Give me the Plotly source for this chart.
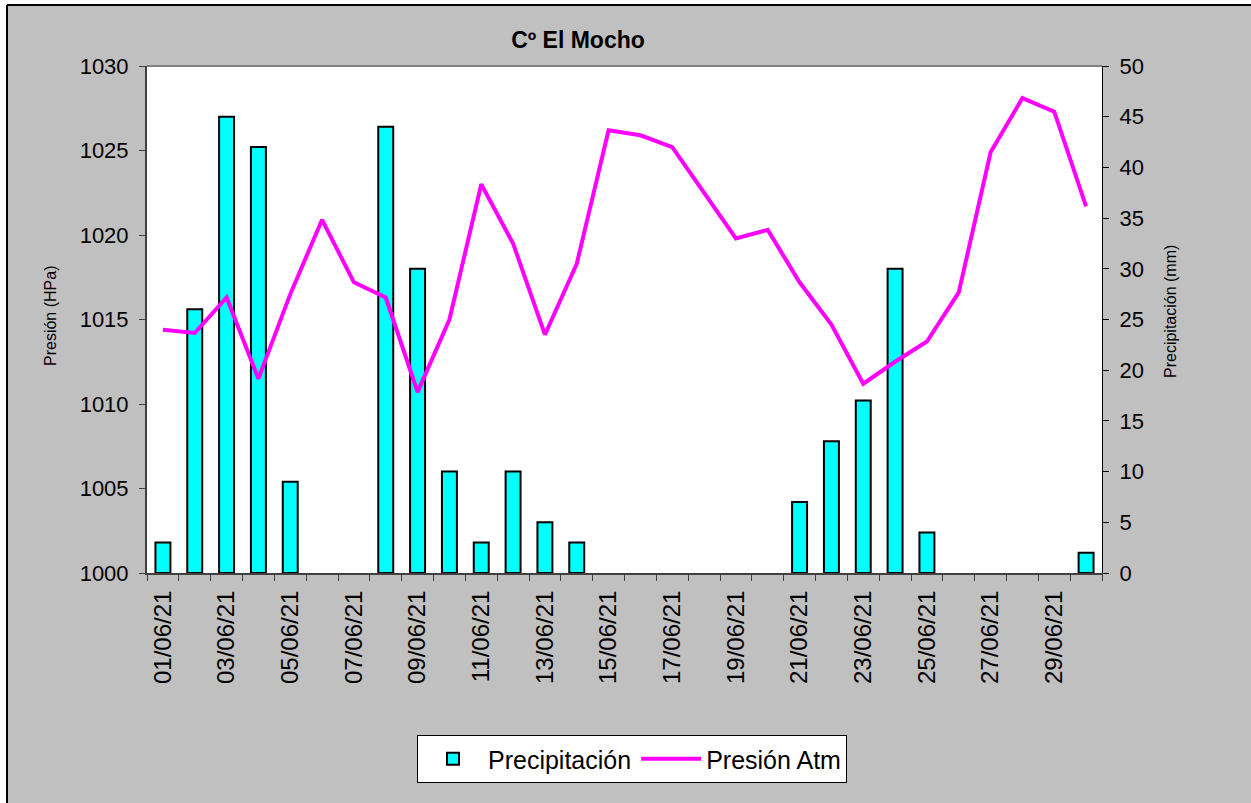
import plotly.graph_objects as go
import pandas as pd

# ---- data ----
dates = [f"{d:02d}/06/21" for d in range(1, 31)]
precipitacion = [3, 26, 45, 42, 9, 0, 0, 44, 30, 10,
                 3, 10, 5, 3, 0, 0, 0, 0, 0, 0,
                 7, 13, 17, 30, 4, 0, 0, 0, 0, 2]
presion = [1014.4, 1014.2, 1016.3, 1011.5, 1016.5, 1020.9, 1017.2, 1016.3, 1010.7, 1015.0,
           1023.0, 1019.5, 1014.1, 1018.3, 1026.2, 1025.9, 1025.2, 1022.5, 1019.8, 1020.3,
           1017.2, 1014.7, 1011.2, 1012.5, 1013.7, 1016.6, 1024.9, 1028.1, 1027.3, 1021.7]
label_dates = dates[::2]
title_text = "Cº El Mocho"

x = pd.to_datetime(dates, format="%d/%m/%y")
xt = pd.to_datetime(label_dates, format="%d/%m/%y")
bar_y = [v if v > 0 else None for v in precipitacion]

W, H = 1251, 803
L, R, T, B = 147, 1102, 66, 573


def px(v):
    return (v - L) / (R - L)


def py(v):
    return (B - v) / (B - T)


FONT = "Liberation Sans, Arial, sans-serif"

fig = go.Figure()
fig.add_trace(go.Bar(
    x=x, y=bar_y, name="Precipitación", yaxis="y",
    marker=dict(color="#00FFFF", line=dict(color="black", width=2)),
))
fig.add_trace(go.Scatter(
    x=x, y=presion, name="Presión Atm", yaxis="y2", mode="lines",
    line=dict(color="#FF00FF", width=4),
))

fig.update_layout(
    width=W, height=H,
    margin=dict(l=L, r=W - R, t=T, b=H - B, pad=0),
    paper_bgcolor="#C0C0C0",
    plot_bgcolor="white",
    bargap=0.53,
    font=dict(family=FONT, color="black"),
    title=dict(text="<b>" + title_text + "</b>", x=578 / W, y=1 - 40 / H,
               xanchor="center", yanchor="middle",
               font=dict(size=23, family=FONT, color="black")),
    xaxis=dict(
        range=[pd.Timestamp("2021-05-31 12:00"), pd.Timestamp("2021-06-30 12:00")],
        tickmode="array", tickvals=xt, ticktext=label_dates,
        tickangle=-90, tickfont=dict(size=24), ticks="", ticklen=0,
        showgrid=False, zeroline=False,
        showline=True, linecolor="#404040", linewidth=2,
        minor=dict(ticks="outside", ticklen=6, tickcolor="#404040",
                   dtick=86400000, tick0="2021-05-31 12:00", showgrid=False),
        ticklabelstandoff=6,
    ),
    yaxis=dict(
        range=[0, 50], dtick=5, side="right",
        showgrid=False, zeroline=False,
        showline=True, linecolor="black", linewidth=1,
        ticks="outside", ticklen=6, tickcolor="black",
        tickfont=dict(size=22), ticklabelstandoff=6,
    ),
    yaxis2=dict(
        range=[1000, 1030], dtick=5, side="left", overlaying="y",
        showgrid=False, zeroline=False,
        showline=True, linecolor="#404040", linewidth=2,
        ticks="outside", ticklen=6, tickcolor="#404040",
        tickfont=dict(size=22), ticklabelstandoff=6,
    ),
    legend=dict(
        orientation="h", x=px(632), y=py(735), xanchor="center", yanchor="top",
        bgcolor="white", bordercolor="black", borderwidth=1,
        font=dict(size=25, family=FONT, color="black"),
        itemwidth=60,
    ),
    showlegend=True,
)

# axis titles
fig.add_annotation(text="Presión (HPa)", x=px(50), y=py(316), xref="paper", yref="paper",
                   textangle=-90, showarrow=False, font=dict(size=16, family=FONT, color="black"),
                   xanchor="center", yanchor="middle")
fig.add_annotation(text="Precipitación (mm)", x=px(1170), y=py(312), xref="paper", yref="paper",
                   textangle=-90, showarrow=False, font=dict(size=16, family=FONT, color="black"),
                   xanchor="center", yanchor="middle")

# top border of plot area
fig.add_shape(type="line", xref="paper", yref="paper", x0=0, x1=1, y0=1, y1=1,
              line=dict(color="#808080", width=2), layer="above")
# outer frame (white strip + black line on left and top)
fig.add_shape(type="rect", xref="paper", yref="paper", x0=px(-5), x1=px(7), y0=py(H + 5), y1=py(-5),
              fillcolor="white", line=dict(width=0), layer="below")
fig.add_shape(type="rect", xref="paper", yref="paper", x0=px(-5), x1=px(W + 5), y0=py(5), y1=py(-5),
              fillcolor="white", line=dict(width=0), layer="below")
fig.add_shape(type="line", xref="paper", yref="paper", x0=px(7), x1=px(7), y0=py(H + 5), y1=py(5),
              line=dict(color="black", width=2), layer="below")
fig.add_shape(type="line", xref="paper", yref="paper", x0=px(7), x1=px(W + 5), y0=py(5), y1=py(5),
              line=dict(color="black", width=2), layer="below")

fig.write_html("out.html", config={"displayModeBar": False},
               post_script="document.body.style.margin='0';document.body.style.overflow='hidden';")
